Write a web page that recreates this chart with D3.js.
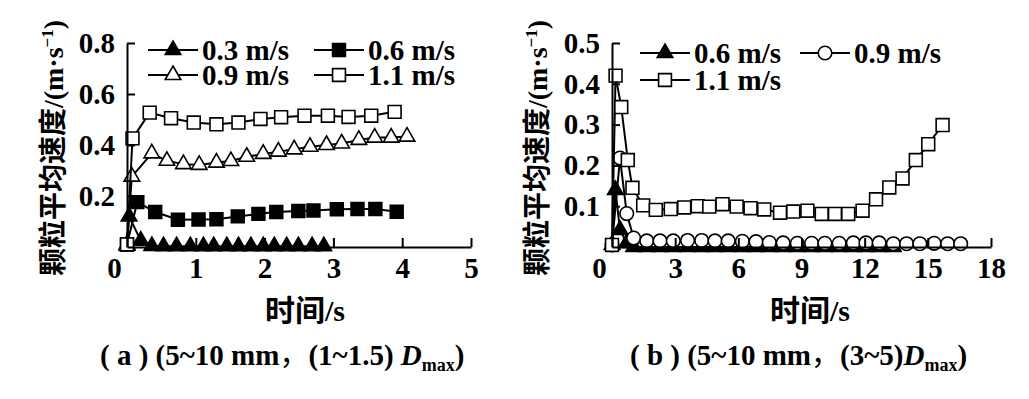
<!DOCTYPE html>
<html>
<head>
<meta charset="utf-8">
<script src="https://cdn.jsdelivr.net/npm/d3@7"></script>
<style>
  body { margin: 0; background: #fff; }
  svg { display: block; }
</style>
</head>
<body>
<div id="chart-container"></div>
<script>
// Panel (a): time (s) vs mean particle speed (m/s)
const a03 = [[0,0.005],[0.03,0.12],[0.2,0.025],[0.36,0.004],[0.53,0.003],[0.72,0.003],[0.92,0.003],[1.11,0.003],[1.26,0.003],[1.45,0.003],[1.62,0.003],[1.80,0.003],[1.98,0.003],[2.14,0.003],[2.32,0.003],[2.49,0.003],[2.69,0.003],[2.86,0.003]];
const a06 = [[0,0.01],[0.15,0.176],[0.41,0.137],[0.74,0.107],[1.04,0.108],[1.30,0.109],[1.61,0.12],[1.91,0.13],[2.17,0.137],[2.49,0.141],[2.71,0.143],[3.05,0.148],[3.35,0.149],[3.61,0.149],[3.92,0.138]];
const a09 = [[0,0.01],[0.07,0.276],[0.36,0.367],[0.58,0.338],[0.82,0.325],[1.05,0.322],[1.30,0.331],[1.51,0.337],[1.74,0.354],[1.98,0.365],[2.20,0.374],[2.43,0.383],[2.66,0.393],[2.90,0.40],[3.12,0.406],[3.37,0.42],[3.60,0.429],[3.84,0.429],[4.07,0.433]];
const a11 = [[0,0.01],[0.08,0.426],[0.33,0.527],[0.64,0.505],[0.97,0.488],[1.30,0.481],[1.62,0.488],[1.94,0.502],[2.24,0.509],[2.58,0.515],[2.92,0.515],[3.22,0.51],[3.55,0.515],[3.89,0.53]];

// Panel (b)
const b06 = [[0,0.005],[0.16,0.14],[0.38,0.042],[0.70,0.01],[1.03,0],[1.65,0],[2.28,0],[2.91,0],[3.59,0],[4.26,0],[4.89,0],[5.52,0],[6.19,0],[6.84,0],[7.47,0],[8.13,0],[8.8,0],[9.48,0],[10.11,0],[10.79,0],[11.46,0],[12.06,0],[12.69,0],[13.36,0]];
const b09 = [[0,0.005],[0.38,0.218],[0.70,0.082],[1.03,0.022],[1.65,0.015],[2.28,0.015],[2.91,0.015],[3.59,0.016],[4.26,0.016],[4.89,0.015],[5.52,0.015],[6.19,0.014],[6.84,0.013],[7.47,0.011],[8.13,0.01],[8.8,0.009],[9.48,0.009],[10.11,0.009],[10.79,0.009],[11.46,0.01],[12.06,0.01],[12.69,0.01],[13.36,0.008],[13.99,0.008],[14.62,0.008],[15.30,0.009],[15.94,0.008],[16.56,0.008]];
const b11 = [[0,0.005],[0.17,0.42],[0.44,0.343],[0.75,0.213],[0.97,0.145],[1.48,0.102],[2.08,0.091],[2.79,0.093],[3.43,0.097],[4.07,0.100],[4.62,0.099],[5.25,0.105],[5.92,0.099],[6.58,0.095],[7.23,0.092],[7.98,0.084],[8.61,0.087],[9.28,0.089],[9.96,0.081],[10.59,0.081],[11.22,0.081],[11.90,0.089],[12.54,0.117],[13.17,0.146],[13.80,0.168],[14.43,0.213],[15.02,0.252],[15.70,0.299]];

const aXTicks = [0, 1, 2, 3, 4, 5];
const aYTicks = [0.2, 0.4, 0.6, 0.8];
const bXTicks = [0, 3, 6, 9, 12, 15, 18];
const bYTicks = [0.1, 0.2, 0.3, 0.4, 0.5];

const yTitle = "颗粒平均速度";
const xTitle = "时间";

const width = 1029;
const height = 399;
const serif = "'Liberation Serif', 'DejaVu Serif', serif";
const cjk = "'Noto Sans CJK SC', sans-serif";

const svg = d3.select("#chart-container").append("svg")
    .attr("width", width)
    .attr("height", height);

// Marker shapes
const markers = {
    triFill:  {type: d3.symbolTriangle, size: 105, fill: "#000"},
    triOpen:  {type: d3.symbolTriangle, size: 105, fill: "#fff"},
    sqFill:   {type: d3.symbolSquare, size: 165, fill: "#000"},
    sqOpen:   {type: d3.symbolSquare, size: 165, fill: "#fff"},
    circOpen: {type: d3.symbolCircle, size: 145, fill: "#fff"}
};

function drawPanel(p) {
    const x = d3.scaleLinear().domain(p.xDomain).range(p.xRange);
    const y = d3.scaleLinear().domain(p.yDomain).range([247, 43]);
    const g = svg.append("g");

    // Series: line first, then its markers
    const line = d3.line().x(d => x(d[0])).y(d => y(d[1]));
    p.series.forEach(s => {
        const m = markers[s.marker];
        g.append("path")
            .datum(s.data)
            .attr("fill", "none")
            .attr("stroke", "#000")
            .attr("stroke-width", 2)
            .attr("d", line);
        g.selectAll(null)
            .data(s.data)
            .join("path")
            .attr("transform", d => `translate(${x(d[0])},${y(d[1])})`)
            .attr("d", d3.symbol(m.type, m.size))
            .attr("fill", m.fill)
            .attr("stroke", "#000")
            .attr("stroke-width", 1.6);
    });

    // Axes, ticks pointing inward
    const xAxis = g.append("g")
        .attr("transform", `translate(0,${y(0)})`)
        .call(d3.axisBottom(x).tickValues(p.xTicks).tickSizeInner(-9).tickSizeOuter(0).tickPadding(10)
            .tickFormat(d3.format("d")));
    const yAxis = g.append("g")
        .attr("transform", `translate(${x(0)},0)`)
        .call(d3.axisLeft(y).tickValues(p.yTicks).tickSizeInner(-8).tickSizeOuter(0).tickPadding(12)
            .tickFormat(d3.format(".1f")));
    [xAxis, yAxis].forEach(a => {
        a.select(".domain").attr("stroke", "#000").attr("stroke-width", 2);
        a.selectAll(".tick line").attr("stroke", "#000").attr("stroke-width", 2);
        a.selectAll(".tick text")
            .attr("fill", "#000")
            .style("font-family", serif)
            .style("font-weight", "bold")
            .style("font-size", "29px");
    });
    // the "0" label sits at the corner, slightly left
    xAxis.selectAll(".tick text").filter(d => d === 0).attr("dx", -13);

    // Legend
    p.legend.forEach(l => {
        const s = p.series[l.idx];
        const m = markers[s.marker];
        const lg = g.append("g").attr("transform", `translate(${l.x},${l.y})`);
        lg.append("line").attr("x1", 0).attr("x2", 50)
            .attr("stroke", "#000").attr("stroke-width", 2);
        lg.append("path").attr("transform", "translate(25,0)")
            .attr("d", d3.symbol(m.type, m.size))
            .attr("fill", m.fill).attr("stroke", "#000").attr("stroke-width", 1.6);
        lg.append("text").attr("x", 54).attr("dy", "0.35em")
            .style("font-family", serif).style("font-weight", "bold").style("font-size", "29px")
            .text(s.name);
    });

    // Y title
    const yt = g.append("text")
        .attr("transform", `translate(${p.yTitleX},148) rotate(-90)`)
        .attr("text-anchor", "middle")
        .attr("dy", "0.35em")
        .style("font-weight", "bold")
        .style("font-size", "28px");
    yt.append("tspan").style("font-family", cjk).text(yTitle);
    yt.append("tspan").style("font-family", serif).text("/(m·s");
    yt.append("tspan").style("font-family", serif).style("font-size", "17px").attr("dy", "-0.55em").text("−1");
    yt.append("tspan").style("font-family", serif).attr("dy", "0.35em").text(")");

    // X title
    const xt = g.append("text")
        .attr("x", p.xTitleX).attr("y", 321)
        .attr("text-anchor", "middle")
        .style("font-weight", "bold")
        .style("font-size", "30px");
    xt.append("tspan").style("font-family", cjk).text(xTitle);
    xt.append("tspan").style("font-family", serif).text("/s");

    // Caption
    const cap = g.append("text")
        .attr("x", p.capX).attr("y", 365)
        .style("font-family", serif)
        .style("font-weight", "bold")
        .style("font-size", "29px");
    cap.append("tspan").text(`( ${p.capLetter} ) `);
    cap.append("tspan").text(p.capText1);
    cap.append("tspan").style("font-family", cjk).style("font-weight", "normal").text("，");
    cap.append("tspan").text(p.capText2);
    cap.append("tspan").style("font-style", "italic").text("D");
    cap.append("tspan").style("font-size", "18px").attr("dy", 6).text("max");
    cap.append("tspan").attr("dy", -6).text(")");
}

drawPanel({
    xDomain: [0, 5], xRange: [127, 471], yDomain: [0, 0.8],
    xTicks: aXTicks, yTicks: aYTicks,
    series: [
        {name: "0.3 m/s", data: a03, marker: "triFill"},
        {name: "0.6 m/s", data: a06, marker: "sqFill"},
        {name: "0.9 m/s", data: a09, marker: "triOpen"},
        {name: "1.1 m/s", data: a11, marker: "sqOpen"}
    ],
    legend: [
        {idx: 0, x: 148, y: 50}, {idx: 1, x: 314, y: 50},
        {idx: 2, x: 148, y: 75}, {idx: 3, x: 314, y: 75}
    ],
    yTitleX: 53, xTitleX: 305,
    capX: 100, capLetter: "a", capText1: "(5~10 mm", capText2: "(1~1.5) "
});

drawPanel({
    xDomain: [0, 18], xRange: [612, 991], yDomain: [0, 0.5],
    xTicks: bXTicks, yTicks: bYTicks,
    series: [
        {name: "0.6 m/s", data: b06, marker: "triFill"},
        {name: "0.9 m/s", data: b09, marker: "circOpen"},
        {name: "1.1 m/s", data: b11, marker: "sqOpen"}
    ],
    legend: [
        {idx: 0, x: 640, y: 53}, {idx: 1, x: 800, y: 53},
        {idx: 2, x: 640, y: 80}
    ],
    yTitleX: 537, xTitleX: 810,
    capX: 630, capLetter: "b", capText1: "(5~10 mm", capText2: "(3~5)"
});
</script>
</body>
</html>
